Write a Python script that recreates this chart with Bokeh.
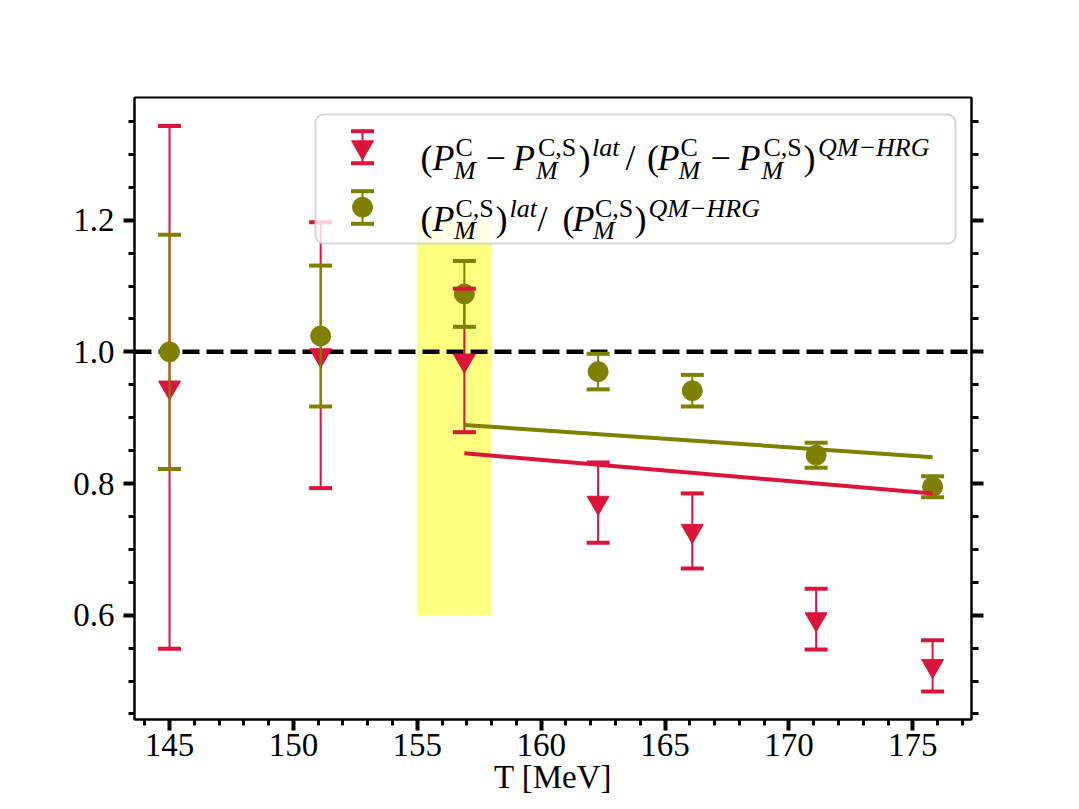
from bokeh.plotting import figure
from bokeh.models import (Range1d, FixedTicker, LinearAxis, BoxAnnotation, Span,
                          Label, CustomJSTickFormatter, PrintfTickFormatter, ColumnDataSource)
from bokeh.embed import file_html
from bokeh.resources import INLINE

# ---------------- data ----------------
T_vals = [145.0, 151.1, 156.9, 162.3, 166.1, 171.1, 175.8]
ratio_diff = [0.946, 0.995, 0.987, 0.771, 0.728, 0.594, 0.523]
ratio_diff_err = [0.397, 0.202, 0.109, 0.061, 0.057, 0.046, 0.039]
ratio_cs = [1.000, 1.024, 1.088, 0.970, 0.941, 0.843, 0.795]
ratio_cs_err = [0.178, 0.107, 0.050, 0.027, 0.024, 0.019, 0.016]
fit_T = [156.9, 175.8]
fit_diff = [0.846, 0.785]
fit_cs = [0.889, 0.840]
band_T = [155.0, 158.0]
band_y = [0.6, 1.2]
ref_level = 1.0
x_major = [145, 150, 155, 160, 165, 170, 175]
x_minor = [144, 146, 147, 148, 149, 151, 152, 153, 154, 156, 157, 158, 159, 161, 162,
           163, 164, 166, 167, 168, 169, 171, 172, 173, 174, 176, 177]
y_major = [0.6, 0.8, 1.0, 1.2]
y_minor = [0.45, 0.5, 0.55, 0.65, 0.7, 0.75, 0.85, 0.9, 0.95, 1.05, 1.1, 1.15, 1.25, 1.3, 1.35]
x_label = "T [MeV]"

RED = "#DC143C"
OLIVE = "#808000"
FONT = "Liberation Serif"

X0, X1 = 143.586, 177.37
Y0, Y1 = 0.4416, 1.3863
W, H = 1079, 809
FL, FR, FT, FB = 134, 971, 97, 719          # frame edges in canvas pixels
BL, BR, BT, BB = FL, W - FR, FT, H - FB


def dx(px):
    return X0 + (px - FL) / (FR - FL) * (X1 - X0)


def dy(py):
    return Y1 - (py - FT) / (FB - FT) * (Y1 - Y0)


p = figure(width=W, height=H, x_range=Range1d(X0, X1), y_range=Range1d(Y0, Y1),
           output_backend="svg", toolbar_location=None,
           min_border_left=BL, min_border_right=BR, min_border_top=BT, min_border_bottom=BB)
p.grid.visible = False
p.background_fill_color = "white"
p.border_fill_color = "white"
p.outline_line_color = "black"
p.outline_line_width = 2

# axes
for ax, ticks, minor in ((p.xaxis, x_major, x_minor), (p.yaxis, y_major, y_minor)):
    ax.ticker = FixedTicker(ticks=ticks, minor_ticks=minor)
    ax.major_tick_in = 0
    ax.minor_tick_in = 0
    ax.major_tick_out = 11
    ax.minor_tick_out = 6
    ax.major_tick_line_width = 4
    ax.minor_tick_line_width = 3
    ax.axis_line_width = 2
    ax.major_label_text_font = FONT
    ax.major_label_text_font_size = "33px"
    ax.major_label_text_color = "black"
p.xaxis.major_label_standoff = 3
p.yaxis.major_label_standoff = 9
p.yaxis.formatter = PrintfTickFormatter(format="%.1f")
p.xaxis.axis_label = x_label
p.xaxis.axis_label_text_font = FONT
p.xaxis.axis_label_text_font_size = "33px"
p.xaxis.axis_label_text_font_style = "normal"
p.xaxis.axis_label_text_color = "black"
p.xaxis.axis_label_standoff = 0

yr = LinearAxis(ticker=FixedTicker(ticks=y_major, minor_ticks=y_minor),
                formatter=CustomJSTickFormatter(code="return ''"),
                major_tick_in=0, minor_tick_in=0, major_tick_out=12, minor_tick_out=7,
                major_tick_line_width=4, minor_tick_line_width=3, axis_line_width=2,
                major_label_text_font_size="1px")
p.add_layout(yr, "right")

# band and reference line
p.add_layout(BoxAnnotation(left=band_T[0], right=band_T[1], bottom=band_y[0], top=band_y[1],
                           fill_color="yellow", fill_alpha=0.5, line_alpha=0, level="underlay"))
p.add_layout(Span(location=ref_level, dimension="width", line_color="black", line_width=4.5,
                  line_dash="17 7", level="underlay"))

src_r = ColumnDataSource(dict(x=T_vals, y=ratio_diff,
                              lo=[v - e for v, e in zip(ratio_diff, ratio_diff_err)],
                              hi=[v + e for v, e in zip(ratio_diff, ratio_diff_err)]))
src_o = ColumnDataSource(dict(x=T_vals, y=ratio_cs,
                              lo=[v - e for v, e in zip(ratio_cs, ratio_cs_err)],
                              hi=[v + e for v, e in zip(ratio_cs, ratio_cs_err)]))

p.segment(x0="x", y0="lo", x1="x", y1="hi", line_color=RED, line_width=2, source=src_r)
p.scatter("x", "y", marker="inverted_triangle", size=22, fill_color=RED, line_color=RED,
          line_width=1, source=src_r)
p.segment(x0="x", y0="lo", x1="x", y1="hi", line_color=OLIVE, line_width=2, source=src_o)
p.scatter("x", "y", marker="circle", size=20, fill_color=OLIVE, line_color=OLIVE,
          line_width=1, source=src_o)
for src, col in ((src_r, RED), (src_o, OLIVE)):
    p.scatter("x", "lo", marker="dash", size=23, line_color=col, line_width=4, source=src)
    p.scatter("x", "hi", marker="dash", size=23, line_color=col, line_width=4, source=src)

p.line(fit_T, fit_diff, line_color=RED, line_width=4)
p.line(fit_T, fit_cs, line_color=OLIVE, line_width=4)

# ---------------- legend (drawn by hand) ----------------
p.add_layout(BoxAnnotation(left=dx(315), right=dx(955), top=dy(114), bottom=dy(243),
                           fill_color="white", fill_alpha=0.8, line_color="#cccccc",
                           line_alpha=0.8, line_width=2, border_radius=8))

icons = [(RED, "inverted_triangle", 22, 130.7, 162.7, 146.7),
         (OLIVE, "circle", 20, 190.7, 223.3, 206.7)]
ix = dx(362)
for col, mk, sz, ctop, cbot, cmid in icons:
    p.segment(x0=[ix], y0=[dy(ctop)], x1=[ix], y1=[dy(cbot)], line_color=col, line_width=2,
              level="overlay")
    p.scatter([ix], [dy(cmid)], marker=mk, size=sz, fill_color=col, line_color=col,
              level="overlay")
    p.scatter([ix, ix], [dy(ctop), dy(cbot)], marker="dash", size=23, line_color=col,
              line_width=4, level="overlay")

MAIN, SUP = 36, 26
rows = [
    (157.5, [("(", 420, "m", "normal"), ("P", 432, "m", "italic"), ("C", 455, "u", "normal"),
             ("M", 453.5, "d", "italic"), ("\u2212", 485, "m", "normal"),
             ("P", 512.5, "m", "italic"), ("C,S", 537.5, "u", "normal"),
             ("M", 535.5, "d", "italic"), (")", 578, "m", "normal"),
             ("lat", 591.5, "u", "italic"), ("/", 625, "m", "normal"),
             ("(", 646.5, "m", "normal"), ("P", 657, "m", "italic"), ("C", 680, "u", "normal"),
             ("M", 678, "d", "italic"), ("\u2212", 710, "m", "normal"),
             ("P", 738, "m", "italic"), ("C,S", 763, "u", "normal"), ("M", 761, "d", "italic"),
             (")", 803, "m", "normal"), ("QM\u2212HRG", 817.5, "u", "italic")]),
    (218.0, [("(", 420, "m", "normal"), ("P", 432, "m", "italic"), ("C,S", 455, "u", "normal"),
             ("M", 453.5, "d", "italic"), (")", 495, "m", "normal"),
             ("lat", 509, "u", "italic"), ("/", 537, "m", "normal"), ("(", 562, "m", "normal"),
             ("P", 572, "m", "italic"), ("C,S", 594.5, "u", "normal"),
             ("M", 592.5, "d", "italic"), (")", 634, "m", "normal"),
             ("QM\u2212HRG", 648, "u", "italic")]),
]
for base, pieces in rows:
    for txt, px, kind, style in pieces:
        if kind == "m":
            by, fs = base, MAIN
        elif kind == "u":
            by, fs = base - 10.5, SUP
        else:
            by, fs = base + 12, SUP
        p.add_layout(Label(x=dx(px), y=dy(by), text=txt, text_font=FONT,
                           text_font_size=f"{fs}px", text_font_style=style,
                           text_align="left", text_baseline="alphabetic", text_color="black"))

open("out.html", "w").write(file_html(p, INLINE))
